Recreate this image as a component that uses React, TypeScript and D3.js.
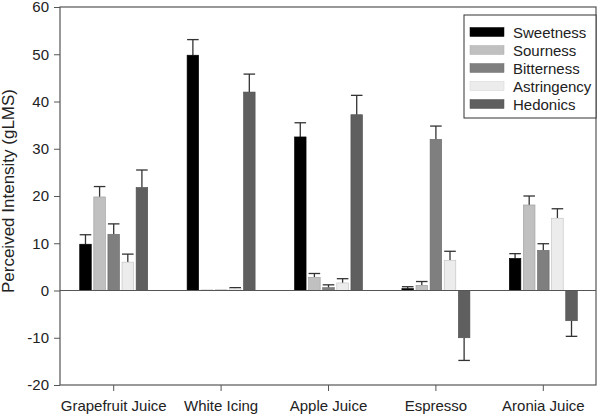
import React, { useEffect, useRef } from 'react';
import * as d3 from 'd3';

const categories = ['Grapefruit Juice', 'White Icing', 'Apple Juice', 'Espresso', 'Aronia Juice'];
const seriesNames = ['Sweetness', 'Sourness', 'Bitterness', 'Astringency', 'Hedonics'];
const seriesColors = ['#000000', '#c0c0c0', '#7f7f7f', '#ececec', '#5f5f5f'];

// mean values per series, in category order
const sweetness = [9.8, 49.8, 32.5, 0.4, 6.8];
const sourness = [19.8, 0.1, 2.8, 1.1, 18.1];
const bitterness = [11.9, 0.1, 0.6, 32.0, 8.5];
const astringency = [6.0, 0.4, 1.6, 6.4, 15.3];
const hedonics = [21.8, 42.0, 37.2, -10.0, -6.4];

// error (SEM) per series
const sweetnessErr = [2.0, 3.3, 3.0, 0.4, 1.0];
const sournessErr = [2.2, 0, 0.8, 0.8, 1.9];
const bitternessErr = [2.2, 0, 0.6, 2.8, 1.4];
const astringencyErr = [1.7, 0.2, 0.9, 1.9, 2.0];
const hedonicsErr = [3.7, 3.8, 4.1, 4.8, 3.3];

const yTicks = [-20, -10, 0, 10, 20, 30, 40, 50, 60];

const values = [sweetness, sourness, bitterness, astringency, hedonics];
const errors = [sweetnessErr, sournessErr, bitternessErr, astringencyErr, hedonicsErr];

const App = () => {
  const ref = useRef<SVGSVGElement>(null);

  useEffect(() => {
    const svg = d3.select(ref.current);
    svg.selectAll('*').remove();

    const left = 60, right = 596, top = 7, bottom = 385;
    const font = '"Liberation Sans", Arial, sans-serif';
    const axisColor = '#555';

    const x = d3.scaleBand().domain(categories).range([left, 597]);
    const x1 = d3.scaleBand().domain(seriesNames).range([-34, 34]).paddingInner(0.18);
    const y = d3.scaleLinear().domain([-20, 60]).range([bottom, top]);

    const rows = categories.flatMap((c, ci) =>
      seriesNames.map((s, si) => ({ c, s, si, v: values[si][ci], e: errors[si][ci] }))
    );

    const plot = svg.append('g');

    // error bars (only on the outer side)
    const eb = plot.selectAll('.err').data(rows.filter(d => d.e > 0)).join('g').attr('class', 'err')
      .attr('stroke', '#333').attr('stroke-width', 1.3);
    const cx = d => (x(d.c) as number) + x.bandwidth() / 2 + (x1(d.s) as number) + x1.bandwidth() / 2;
    const end = d => (d.v >= 0 ? d.v + d.e : d.v - d.e);
    eb.append('line')
      .attr('x1', cx).attr('x2', cx)
      .attr('y1', d => y(d.v)).attr('y2', d => y(end(d)));
    eb.append('line')
      .attr('x1', d => cx(d) - x1.bandwidth() / 2).attr('x2', d => cx(d) + x1.bandwidth() / 2)
      .attr('y1', d => y(end(d))).attr('y2', d => y(end(d)));

    plot.selectAll('.bar').data(rows).join('rect').attr('class', 'bar')
      .attr('x', d => (x(d.c) as number) + x.bandwidth() / 2 + (x1(d.s) as number))
      .attr('width', x1.bandwidth())
      .attr('y', d => y(Math.max(0, d.v)))
      .attr('height', d => Math.abs(y(d.v) - y(0)))
      .attr('fill', d => seriesColors[d.si])
      .attr('stroke', d => d3.color(seriesColors[d.si])!.darker(0.6).formatHex())
      .attr('stroke-width', 0.6);

    // zero line
    svg.append('line')
      .attr('x1', left).attr('x2', right).attr('y1', y(0)).attr('y2', y(0))
      .attr('stroke', axisColor).attr('stroke-width', 1);

    // frame
    svg.append('rect')
      .attr('x', left).attr('y', top).attr('width', right - left).attr('height', bottom - top)
      .attr('fill', 'none').attr('stroke', axisColor).attr('stroke-width', 1.2);

    // y axis
    const ya = svg.append('g').attr('transform', `translate(${left},0)`)
      .call(d3.axisLeft(y).tickValues(yTicks).tickFormat(d => String(d)).tickSize(6).tickPadding(5));
    ya.select('.domain').remove();
    ya.selectAll('line').attr('stroke', axisColor);
    ya.selectAll('text').attr('font-family', font).attr('font-size', 15).attr('fill', '#222');

    // x axis
    const xa = svg.append('g').attr('transform', `translate(0,${bottom})`)
      .call(d3.axisBottom(x).tickSize(6).tickPadding(9));
    xa.select('.domain').remove();
    xa.selectAll('line').attr('stroke', axisColor);
    xa.selectAll('text').attr('font-family', font).attr('font-size', 15).attr('fill', '#222');

    svg.append('text')
      .attr('transform', `translate(14,191) rotate(-90)`)
      .attr('text-anchor', 'middle')
      .attr('font-family', font).attr('font-size', 17).attr('fill', '#222')
      .text('Perceived Intensity (gLMS)');

    // legend
    const lg = svg.append('g');
    lg.append('rect').attr('x', 464).attr('y', 15).attr('width', 132).attr('height', 103)
      .attr('fill', '#fff').attr('stroke', '#333').attr('stroke-width', 1);
    const item = lg.selectAll('.item').data(seriesNames).join('g').attr('class', 'item')
      .attr('transform', (d, i) => `translate(470,${32 + i * 18})`);
    item.append('rect').attr('x', 0).attr('y', -4.5).attr('width', 34).attr('height', 9)
      .attr('fill', (d, i) => seriesColors[i])
      .attr('stroke', (d, i) => d3.color(seriesColors[i])!.darker(0.3).formatHex()).attr('stroke-width', 0.5);
    item.append('text').attr('x', 43).attr('y', 5.5)
      .attr('font-family', font).attr('font-size', 15).attr('fill', '#222')
      .text(d => d);
  }, []);

  return (
    <svg ref={ref} width={600} height={416}
      style={{ position: 'absolute', left: 0, top: 0, background: '#fff' }} />
  );
};

export default App;
